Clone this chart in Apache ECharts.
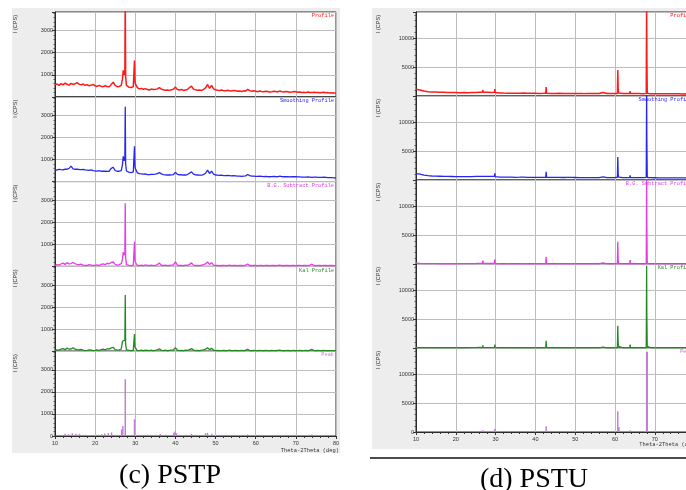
<!DOCTYPE html>
<html><head><meta charset="utf-8">
<script src="https://cdn.jsdelivr.net/npm/echarts@6/dist/echarts.min.js"></script>
<style>
html,body{margin:0;padding:0;background:#fff;overflow:hidden;width:686px;height:490px;position:relative;}
#bgL{position:absolute;left:12px;top:8px;width:328px;height:445px;background:#ededed;}
#bgR{position:absolute;left:372px;top:8px;width:340px;height:441px;background:#ededed;}
#chart{position:absolute;left:0;top:0;width:730px;height:490px;}
</style></head><body>
<div id="bgL"></div><div id="bgR"></div><div id="chart"></div>
<script>
const profileNames = ['Profile','Smoothing Profile','B.G. Subtract Profile','Kal Profile','Peak'];
const captions = ['(c) PSTP','(d) PSTU'];
const axisTitle = 'Theta-2Theta (deg)';
const yTitle = 'I (CPS)';

// PSTP (0.5 deg grid)
const pstpAngles = [10,10.5,11,11.5,12,12.5,13,13.5,14,14.5,15,15.5,16,16.5,17,17.5,18,18.5,19,19.5,
20,20.5,21,21.5,22,22.5,23,23.5,24,24.5,25,25.5,26,26.5,27,27.5,28,28.5,29,29.5,
30,30.5,31,31.5,32,32.5,33,33.5,34,34.5,35,35.5,36,36.5,37,37.5,38,38.5,39,39.5,
40,40.5,41,41.5,42,42.5,43,43.5,44,44.5,45,45.5,46,46.5,47,47.5,48,48.5,49,49.5,
50,50.5,51,51.5,52,52.5,53,53.5,54,54.5,55,55.5,56,56.5,57,57.5,58,58.5,59,59.5,
60,60.5,61,61.5,62,62.5,63,63.5,64,64.5,65,65.5,66,66.5,67,67.5,68,68.5,69,69.5,
70,70.5,71,71.5,72,72.5,73,73.5,74,74.5,75,75.5,76,76.5,77,77.5,78,78.5,79,79.5,80];
const pstpProfile = [560,580,520,600,540,620,570,530,610,560,
590,640,570,540,580,520,550,500,530,560,
500,470,520,480,460,500,470,450,560,660,
520,460,470,520,1200,4500,470,430,420,460,
600,420,360,380,340,370,330,310,350,330,
340,360,420,350,320,300,310,290,320,340,
440,330,310,330,290,310,330,420,480,350,
320,300,310,290,340,400,560,380,520,360,
320,300,290,310,280,270,300,270,260,290,
280,250,260,240,270,260,340,280,250,270,
250,230,260,240,230,250,240,220,230,250,
240,220,270,230,220,240,230,210,220,240,
230,210,220,200,210,190,220,200,190,210,
200,190,180,200,210,180,190,170,180,170,160];
const pstpProfileExtra = [[26.8,800],[27.2,1000],[27.4,1100],[27.6,900],[27.8,520],[29.7,520],[29.8,1650],[29.9,800]];
const pstpSmooth = [540,520,560,540,530,570,560,600,700,580,
560,570,550,540,560,530,520,510,530,500,
490,480,500,470,470,480,460,470,600,650,
500,470,470,500,1150,3400,440,420,410,440,
600,400,360,350,340,350,320,320,330,330,
340,360,410,350,320,310,300,300,310,320,
420,330,310,310,300,300,320,380,440,340,
310,300,290,290,320,380,520,370,470,340,
300,290,280,290,270,270,280,270,260,270,
260,250,250,240,250,260,320,270,250,250,
240,240,250,240,230,240,230,220,230,240,
230,220,250,230,220,230,220,210,220,230,
220,210,210,200,200,200,210,200,190,200,
200,190,190,190,200,190,180,180,180,170,170];
const pstpSmoothExtra = [[26.8,750],[27.2,950],[27.4,1050],[27.6,800],[27.8,480],[29.7,480],[29.8,1600],[29.9,750]];
const pstpBgSub = [40,80,60,110,150,90,170,110,130,180,
120,90,70,100,60,40,50,80,60,40,
50,70,40,90,110,80,140,120,180,200,
90,60,80,120,650,2870,40,50,30,60,
200,40,40,60,30,70,50,40,60,30,
50,80,150,50,40,60,30,50,60,70,
210,60,40,50,30,60,50,90,160,60,
40,50,30,60,80,110,200,90,170,60,
40,50,30,40,50,30,40,60,30,40,
50,30,40,50,30,60,110,40,30,50,
40,30,50,40,30,50,40,30,50,40,
30,50,60,40,30,40,50,30,40,50,
30,40,50,30,40,50,30,60,100,40,
30,50,40,30,50,40,30,40,40,30,30];
const pstpBgSubExtra = [[26.8,300],[27.2,500],[27.4,600],[27.6,400],[27.8,80],[29.7,80],[29.8,1120],[29.9,300]];
const pstpKa1 = [30,60,50,90,120,70,140,90,100,150,
90,70,60,80,50,30,40,60,50,30,
40,60,30,70,90,60,110,100,150,170,
70,50,60,100,500,2550,30,40,20,50,
150,30,30,50,20,50,40,30,50,20,
40,60,110,40,30,50,20,40,50,60,
160,50,30,40,20,50,40,70,120,50,
30,40,20,50,60,90,160,70,130,50,
30,40,20,30,40,20,30,50,20,30,
40,20,30,40,20,50,80,30,20,40,
30,20,40,30,20,40,30,20,40,30,
20,40,50,30,20,30,40,20,30,40,
20,30,40,20,30,40,20,50,80,30,
20,40,30,20,40,30,20,30,30,20,20];
const pstpKa1Extra = [[26.6,200],[26.8,450],[27.2,400],[27.4,500],[27.6,300],[27.8,60],[29.7,60],[29.8,780],[29.9,200]];
const pstpPeaks = [[12.5,100],[13.4,80],[14.3,130],[15.2,100],[16.1,90],[17.5,60],[21.6,80],[22.4,110],[23.3,130],[24.1,160],
[26.6,300],[26.9,450],[27.5,2580],[29.8,760],[31.2,50],[33.1,60],[35.0,50],[36.2,90],[37.6,60],[39.6,150],[39.9,200],[40.3,120],
[43.0,50],[44.0,90],[47.5,120],[48.0,140],[49.1,100],[52.0,50],[55.0,40],[58.0,70],[62.0,40],[66.0,50],[70.0,40],[74.0,70],[77.0,40]];

// PSTU (1 deg grid)
const pstuAngles = [10,11,12,13,14,15,16,17,18,19,20,21,22,23,24,25,26,27,28,29,30,31,32,33,34,35,36,37,38,39,
40,41,42,43,44,45,46,47,48,49,50,51,52,53,54,55,56,57,58,59,60,61,62,63,64,65,66,67,68,69,70,71,72,73,74,75,76,77,78,79,80];
const pstuProfile = [1150,1050,850,750,700,680,650,640,620,600,
600,580,590,570,600,620,650,600,640,620,
560,520,500,490,480,470,480,520,480,460,
470,450,460,460,450,440,460,430,440,450,
430,420,410,430,420,410,420,600,430,420,
430,450,420,410,420,420,410,400,7000,400,
390,380,390,380,370,380,370,360,370,360,350];
const pstuProfileExtra = [[26.7,650],[26.8,1030],[26.9,660],[29.7,640],[29.8,1200],[29.9,600],[42.6,470],[42.7,1550],[42.8,470],
[60.6,440],[60.7,4480],[60.8,1200],[60.9,500],[63.7,420],[63.8,860],[63.9,420],[67.85,450],[67.95,16000],[68.1,800],[68.2,420]];
const pstuSmooth = [1100,1000,830,740,690,670,650,630,610,600,
590,580,580,570,590,610,630,600,620,610,
550,510,500,490,480,470,480,500,470,460,
460,450,450,460,450,440,450,430,440,440,
430,420,410,420,420,410,410,550,420,420,
430,450,420,410,420,410,410,400,7300,400,
390,380,380,380,370,370,370,360,360,360,350];
const pstuSmoothExtra = [[26.7,620],[26.8,950],[26.9,620],[29.7,620],[29.8,1150],[29.9,580],[42.6,460],[42.7,1400],[42.8,460],
[60.6,440],[60.7,3970],[60.8,1100],[60.9,480],[63.7,420],[63.8,800],[63.9,420],[67.85,450],[67.95,16000],[68.1,800],[68.2,420]];
const pstuBgSub = [150,100,60,50,60,50,40,50,40,50,
40,50,60,50,70,90,120,80,110,90,
60,40,30,40,30,30,40,60,40,30,
40,30,40,40,30,30,40,30,30,40,
30,30,20,30,30,20,30,180,30,30,
40,60,30,20,30,30,20,20,7000,20,
20,20,30,20,20,30,20,20,20,20,20];
const pstuBgSubExtra = [[26.7,120],[26.8,600],[26.9,90],[29.7,90],[29.8,800],[29.9,60],[42.6,40],[42.7,1260],[42.8,40],
[60.6,50],[60.7,3850],[60.8,700],[60.9,60],[63.7,30],[63.8,700],[63.9,30],[67.85,40],[67.95,16000],[68.1,400],[68.2,30]];
const pstuKa1 = [60,40,30,40,30,40,30,40,30,40,
30,40,50,40,60,70,90,60,80,70,
50,30,20,30,20,20,30,50,30,20,
30,20,30,30,20,20,30,20,20,30,
20,20,10,20,20,10,20,150,20,20,
30,50,20,10,20,20,10,10,6000,10,
10,10,20,10,10,20,10,10,10,10,10];
const pstuKa1Extra = [[26.7,80],[26.8,450],[26.9,70],[29.7,70],[29.8,600],[29.9,50],[42.6,30],[42.7,1260],[42.8,30],
[60.6,40],[60.7,3850],[60.8,900],[60.9,300],[63.7,20],[63.8,600],[63.9,20],[67.85,30],[67.95,14200],[68.1,300],[68.2,20]];
const pstuPeaks = [[26.8,300],[29.8,500],[42.7,1000],[57.0,100],[60.7,3600],[61.0,860],[63.8,300],[67.95,13900],[68.1,13800]];

function merge(angles, base, extra){
  return angles.map((a,i)=>[a, base[i]]).concat(extra).sort((p,q)=>p[0]-q[0]);
}

const colors = ['#ff1a1a','#2626f0','#e63ce6','#238a23','#c07ad2'];
const panels = [
  {left:55, width:281, top:12, h:84.8, ymax:3850, yint:1000,
   lines:[merge(pstpAngles,pstpProfile,pstpProfileExtra), merge(pstpAngles,pstpSmooth,pstpSmoothExtra),
          merge(pstpAngles,pstpBgSub,pstpBgSubExtra), merge(pstpAngles,pstpKa1,pstpKa1Extra)],
   peaks:pstpPeaks, caption:captions[0], capX:170, capY:476, yLabX:15, titleY:451},
  {left:416, width:278.6, top:12, h:84, ymax:14500, yint:5000,
   lines:[merge(pstuAngles,pstuProfile,pstuProfileExtra), merge(pstuAngles,pstuSmooth,pstuSmoothExtra),
          merge(pstuAngles,pstuBgSub,pstuBgSubExtra), merge(pstuAngles,pstuKa1,pstuKa1Extra)],
   peaks:pstuPeaks, caption:captions[1], capX:534, capY:480, yLabX:378, titleY:444.5}
];

const grids=[], xAxes=[], yAxes=[], series=[], graphics=[];
const tickFont = {fontSize:5.5, color:'#333', fontFamily:'Liberation Sans'};
panels.forEach(p=>{
  for(let k=0;k<5;k++){
    const g = grids.length;
    const top = p.top + k*p.h;
    const bottom = k===4;
    grids.push({left:p.left, top:top, width:p.width, height:p.h, show:true, backgroundColor:'#fff', borderColor:'#2a2a2a', borderWidth:1});
    xAxes.push({gridIndex:g, type:'value', min:10, max:80, interval:10,
      axisLine:{show:bottom, lineStyle:{color:'#2a2a2a'}},
      axisTick:{show:bottom, length:3, lineStyle:{color:'#333'}},
      minorTick:{show:bottom, splitNumber:5, length:2, lineStyle:{color:'#333'}},
      axisLabel:Object.assign({show:bottom, margin:4}, tickFont),
      splitLine:{show:true, lineStyle:{color:'#bdbdbd', width:1}}});
    yAxes.push({gridIndex:g, type:'value', min:0, max:p.ymax, interval:p.yint,
      axisLine:{show:true, lineStyle:{color:'#2a2a2a'}},
      axisTick:{show:true, length:3, lineStyle:{color:'#333'}},
      minorTick:{show:true, splitNumber:5, length:1.5, lineStyle:{color:'#555'}},
      axisLabel:Object.assign({margin:2, showMaxLabel:false, formatter:(v)=> (v===0 && !bottom) ? '' : String(v)}, tickFont),
      splitLine:{show:true, lineStyle:{color:'#bdbdbd', width:1}}});
    if(k<4){
      series.push({type:'line', xAxisIndex:g, yAxisIndex:g, data:p.lines[k], symbol:'none', showSymbol:false,
        lineStyle:{width:k===0?1.5:1.3, color:colors[k]}, itemStyle:{color:colors[k]}, animation:false, clip:true, z:3});
    } else {
      series.push({type:'bar', xAxisIndex:g, yAxisIndex:g, data:p.peaks, barWidth:1.4,
        itemStyle:{color:colors[4]}, animation:false, z:3});
    }
    graphics.push({type:'text', x:p.left+p.width-2, y:top+3.8, z:10,
      style:{text:profileNames[k], fill:colors[k], font:'5.3px "Liberation Mono"', align:'right', verticalAlign:'middle', textAlign:'right', textVerticalAlign:'middle'}});
    graphics.push({type:'text', x:p.yLabX, y:top+12, rotation:Math.PI/2, z:10,
      style:{text:yTitle, fill:'#333', font:'5.5px "Liberation Sans"', align:'center', verticalAlign:'middle', textAlign:'center', textVerticalAlign:'middle'}});
  }
  graphics.push({type:'text', x:p.left+p.width+3, y:p.titleY, z:10,
    style:{text:axisTitle, fill:'#333', font:'5.4px "Liberation Mono"', align:'right', verticalAlign:'middle', textAlign:'right', textVerticalAlign:'middle'}});
  graphics.push({type:'text', x:p.capX, y:p.capY, z:10,
    style:{text:p.caption, fill:'#000', font:'28px "Liberation Serif"', align:'center', verticalAlign:'middle', textAlign:'center', textVerticalAlign:'middle'}});
});
graphics.push({type:'line', z:10, shape:{x1:370, y1:458, x2:730, y2:458}, style:{stroke:'#111', lineWidth:1.5}});

const chart = echarts.init(document.getElementById('chart'), null, {renderer:'canvas'});
chart.setOption({animation:false, backgroundColor:'transparent', grid:grids, xAxis:xAxes, yAxis:yAxes, series:series, graphic:graphics});
</script></body></html>
